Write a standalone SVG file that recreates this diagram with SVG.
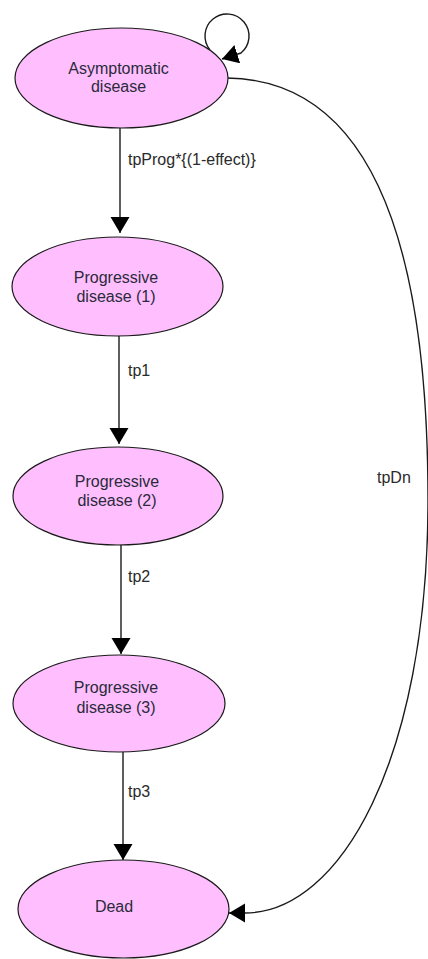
<svg xmlns="http://www.w3.org/2000/svg" width="428" height="959" viewBox="0 0 428 959">
  <style>
    .node ellipse { fill: #ffbfff; stroke: #1a1a1a; stroke-width: 1.2; }
    .node text { font-family: "Liberation Sans", Arial, sans-serif; font-size: 16px; fill: #2a2a3a; text-anchor: middle; }
    .edge { fill: none; stroke: #1a1a1a; stroke-width: 1.4; marker-end: url(#head); }
    .label { font-family: "Liberation Sans", Arial, sans-serif; font-size: 16px; fill: #2a2a2a; }
  </style>
  <defs>
    <marker id="head" markerUnits="userSpaceOnUse" markerWidth="17" markerHeight="20" refX="16" refY="9.5" orient="auto">
      <path d="M0,0 L16,9.5 L0,19 z" fill="#000"/>
    </marker>
  </defs>
  <rect width="428" height="959" fill="#fff"/>

  <g id="connectors">
    <path class="edge" d="M210,50 A22,22 0 1 1 241,53 L222,59"/>
    <path class="edge" d="M120,128 L120,233"/>
    <path class="edge" d="M119,336 L119,444"/>
    <path class="edge" d="M121,545 L121,654"/>
    <path class="edge" d="M123,752 L123,860"/>
    <path class="edge" d="M227,78 C370,80 428,240 428,500 C428,760 340,913 245,913 L229,913"/>
    <text class="label" x="128" y="165">tpProg*{(1-effect)}</text>
    <text class="label" x="128" y="376">tp1</text>
    <text class="label" x="128" y="582">tp2</text>
    <text class="label" x="128" y="797">tp3</text>
    <text class="label" x="377" y="483">tpDn</text>
  </g>

  <g id="asymptomatic" class="node">
    <ellipse cx="121.5" cy="78" rx="106.5" ry="50"/>
    <text x="118.5" y="74">Asymptomatic</text>
    <text x="118.5" y="92">disease</text>
  </g>
  <g id="progressive1" class="node">
    <ellipse cx="117.5" cy="286.5" rx="105.5" ry="49.5"/>
    <text x="116" y="283">Progressive</text>
    <text x="116" y="302">disease (1)</text>
  </g>
  <g id="progressive2" class="node">
    <ellipse cx="118" cy="496" rx="105" ry="49"/>
    <text x="117" y="487">Progressive</text>
    <text x="117" y="506">disease (2)</text>
  </g>
  <g id="progressive3" class="node">
    <ellipse cx="119" cy="703.5" rx="106" ry="48.5"/>
    <text x="116" y="693">Progressive</text>
    <text x="116" y="713">disease (3)</text>
  </g>
  <g id="dead" class="node">
    <ellipse cx="123.5" cy="909" rx="105.5" ry="49"/>
    <text x="114" y="912">Dead</text>
  </g>
</svg>
